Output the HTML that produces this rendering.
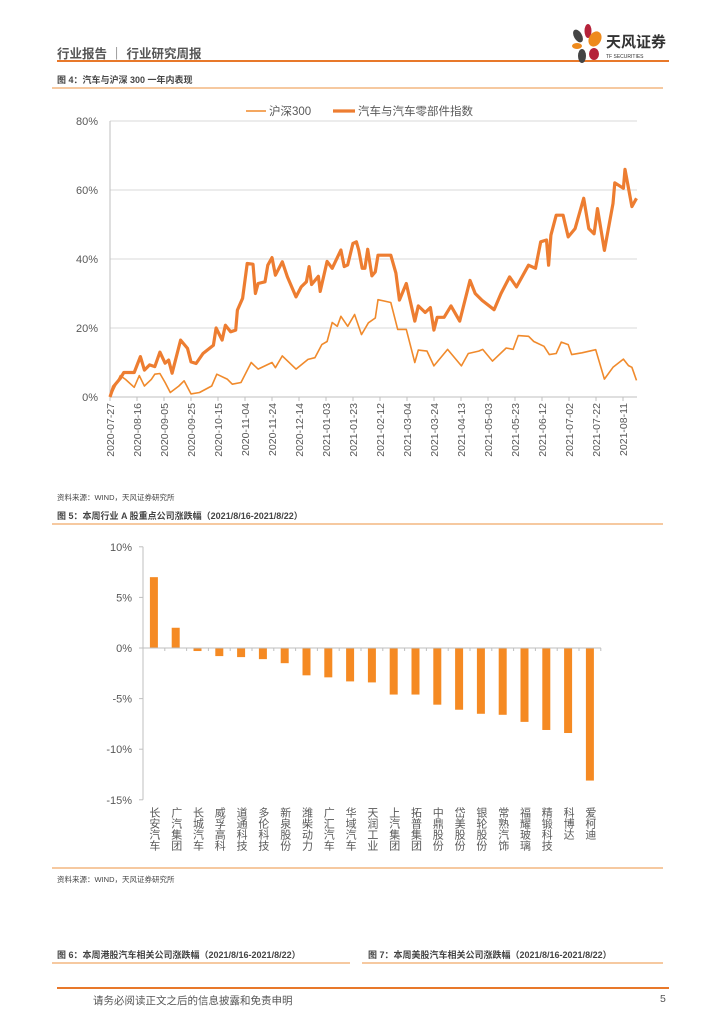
<!DOCTYPE html>
<html><head><meta charset="utf-8">
<style>
body{margin:0;width:724px;height:1024px;background:#fff;position:relative;overflow:hidden;font-family:"Liberation Sans","Noto Sans CJK SC",sans-serif;}
.abs{position:absolute;white-space:nowrap;}
.vlab{position:absolute;writing-mode:vertical-rl;font-size:11px;line-height:12px;color:#595959;font-family:"Liberation Sans","Noto Sans CJK SC",sans-serif;white-space:nowrap;}
</style></head><body>
<div class="abs" style="left:57px;top:43px;font-size:12.5px;color:#555;font-weight:bold;">行业报告 ｜ 行业研究周报</div>
<div class="abs" style="left:57px;top:60px;width:612px;height:2px;background:#e8782a;"></div>
<svg class="abs" style="left:568px;top:22px" width="104" height="42">
<ellipse cx="10" cy="14" rx="4" ry="7" fill="#444" transform="rotate(-30 10 14)"/>
<ellipse cx="20" cy="9" rx="3.5" ry="7" fill="#b5223a"/>
<ellipse cx="27" cy="17" rx="6" ry="8" fill="#ee8a1c" transform="rotate(30 27 17)"/>
<ellipse cx="9" cy="24" rx="5" ry="3" fill="#ee8a1c"/>
<ellipse cx="26" cy="32" rx="5" ry="6" fill="#b5223a"/>
<ellipse cx="14" cy="34" rx="4" ry="7" fill="#444"/>
<text x="38" y="25" font-size="15" font-weight="bold" fill="#333" font-family="Liberation Sans,Noto Sans CJK SC,sans-serif">天风证券</text>
<text x="38" y="36" font-size="5" fill="#333" font-family="Liberation Sans,sans-serif">TF SECURITIES</text>
</svg>
<div class="abs" style="left:57px;top:73px;font-size:9px;font-weight:bold;color:#444;">图 4：汽车与沪深 300 一年内表现</div>
<div class="abs" style="left:52px;top:87px;width:611px;height:1.5px;background:#f6c9a0;"></div>

<svg class="abs" id="c1" style="left:0;top:95px" width="724" height="395"></svg>

<div class="abs" style="left:57px;top:492px;font-size:7.5px;color:#444;">资料来源：WIND，天风证券研究所</div>
<div class="abs" style="left:57px;top:509px;font-size:9px;font-weight:bold;color:#444;">图 5：本周行业 A 股重点公司涨跌幅（2021/8/16-2021/8/22）</div>
<div class="abs" style="left:52px;top:523px;width:611px;height:1.5px;background:#f6c9a0;"></div>

<svg class="abs" id="c2" style="left:0;top:530px" width="724" height="336"></svg>
<div id="labs2"></div>
<div class="abs" style="left:52px;top:867px;width:611px;height:1.5px;background:#f6c9a0;"></div>
<div class="abs" style="left:57px;top:874px;font-size:7.5px;color:#444;">资料来源：WIND，天风证券研究所</div>

<div class="abs" style="left:57px;top:948px;font-size:9px;font-weight:bold;color:#444;">图 6：本周港股汽车相关公司涨跌幅（2021/8/16-2021/8/22）</div>
<div class="abs" style="left:52px;top:962px;width:298px;height:1.5px;background:#f6c9a0;"></div>
<div class="abs" style="left:368px;top:948px;font-size:9px;font-weight:bold;color:#444;">图 7：本周美股汽车相关公司涨跌幅（2021/8/16-2021/8/22）</div>
<div class="abs" style="left:362px;top:962px;width:301px;height:1.5px;background:#f6c9a0;"></div>
<div class="abs" style="left:57px;top:987px;width:612px;height:1.5px;background:#e8782a;"></div>
<div class="abs" style="left:93px;top:993px;font-size:10.5px;color:#555;">请务必阅读正文之后的信息披露和免责申明</div>
<div class="abs" style="left:660px;top:993px;font-size:10.5px;color:#555;">5</div>

<script>
const hsDays=[0,7.6,11.5,17.9,21.7,25.5,30.6,33.2,37,40.8,44.7,51,54.9,60,66.3,75.3,79.1,86.8,90.6,97,104.6,109.7,120,122.5,127.6,137.8,146.7,151.8,156.9,160.8,164.6,168.4,171,176.1,181.2,186.3,191.4,196.5,198.5,208,213.1,219.5,225.8,228.4,234.8,239.9,250.1,260.3,265.4,273.1,276.1,283.3,293.5,298.6,302.4,310.1,313.9,321.5,325.4,330.5,334.3,339.4,342,349.6,359.8,366.2,372.6,380.3,384.1,386.6,390];
const hsVals=[0,6.2,5.1,2.8,6.2,3.2,5.1,6.6,6.8,4.2,1.3,3.2,4.7,0.9,1.3,3.2,6.6,5.2,3.7,4.2,10,8.1,10,8.5,11.9,8.1,10.9,11.4,15.2,16.1,21.6,20.5,23.4,20.5,23.9,18.1,21.5,22.9,28.2,27.4,19.6,19.6,10,13.6,13.3,9,13.8,9,12.6,13.3,13.8,10.4,14.2,13.8,17.8,17.6,16.1,14.7,12.3,12.6,15.9,15.2,12.3,12.8,13.7,5.2,8.6,11,9.1,8.6,4.8];
const autoDays=[0,2.5,7.6,10.2,17.9,22.5,25.5,29.3,33.2,37,40.8,43.4,46,52.3,57.4,60,63.8,68.9,76.6,78.6,83,85.5,89.3,93.1,94.4,98.2,101.6,105.9,107.7,109.7,114.8,116.9,120,122.5,127.6,131.4,137.8,141.6,145.5,147.5,149.3,154.4,155.7,160.8,164.6,171,173.5,176.1,179.9,182.5,184.2,186.8,188.8,190.9,194,196.5,198.5,208,211.8,214.4,219.5,225.8,228.4,233.5,237.3,239.9,242.4,247.5,252.6,259,266.7,270.5,275.6,284.5,289.6,296,301.1,310,315.2,319,323.3,324.9,326.6,330.5,335.6,339.4,344.5,350.9,354.7,358.6,361.1,366.2,372.6,373.9,380.3,381.5,386.6,390];
const autoVals=[0,3,5.4,7.1,7.1,11.7,7.8,9.3,8.8,13,9.8,10.7,6.9,16.5,14.1,10.2,9.7,12.6,15,20,16.5,20.8,18.9,19.4,25.2,28.6,38.7,38.5,30,32.9,33.4,38.2,40.4,35.3,39.2,34.8,29,31.9,33.4,37.8,32.6,35,30.6,39.3,37.3,42.6,37.8,38.3,44.5,45,42.6,37.3,37.3,42.8,35.1,36.3,41.1,41.1,35.9,28.1,32.9,22,26.4,24.5,25.9,19.4,23.1,23.1,26.4,22,33.8,30,28,25.3,30,34.8,31.9,38.2,37.3,45,45.5,38.2,46.9,52.7,52.7,46.4,48.8,57.6,48.8,47.3,54.6,42.5,56.1,62.1,60.5,66,55.2,57.6];
const xTickLabels=["2020-07-27","2020-08-16","2020-09-05","2020-09-25","2020-10-15","2020-11-04","2020-11-24","2020-12-14","2021-01-03","2021-01-23","2021-02-12","2021-03-04","2021-03-24","2021-04-13","2021-05-03","2021-05-23","2021-06-12","2021-07-02","2021-07-22","2021-08-11"];
const yTicks1=[0,20,40,60,80];

const barCats=["长安汽车","广汽集团","长城汽车","威孚高科","道通科技","多伦科技","新泉股份","潍柴动力","广汇汽车","华域汽车","天润工业","上汽集团","拓普集团","中鼎股份","岱美股份","银轮股份","常熟汽饰","福耀玻璃","精锻科技","科博达","爱柯迪"];
const barVals=[7.0,2.0,-0.3,-0.8,-0.9,-1.1,-1.5,-2.7,-2.9,-3.3,-3.4,-4.6,-4.6,-5.6,-6.1,-6.5,-6.6,-7.3,-8.1,-8.4,-13.1];
const yTicks2=[10,5,0,-5,-10,-15];

const NS="http://www.w3.org/2000/svg";
function mk(p,t,a){const e=document.createElementNS(NS,t);for(const k in a)e.setAttribute(k,a[k]);p.appendChild(e);return e;}
const F='Liberation Sans, Noto Sans CJK SC, sans-serif';

const c1=document.getElementById('c1');
const X1=d=>110+d*1.35, Y1=v=>302-v*3.45;
yTicks1.forEach(v=>{
  if(v>0){const g=mk(c1,'line',{x1:110,x2:637,y1:Y1(v),y2:Y1(v),stroke:'#d9d9d9','stroke-width':1});
  
  }
  const t=mk(c1,'text',{x:98,y:Y1(v)+4,'text-anchor':'end','font-size':11,fill:'#595959','font-family':F});
  t.textContent=v+'%';
  
  
});
const ya=mk(c1,'line',{x1:110,x2:110,y1:Y1(80),y2:Y1(0),stroke:'#bfbfbf'});


const xa=mk(c1,'line',{x1:110,x2:637,y1:Y1(0),y2:Y1(0),stroke:'#bfbfbf'});


xTickLabels.forEach((s,i)=>{
  const x=X1(i*20);
  mk(c1,'line',{x1:x,x2:x,y1:Y1(0),y2:Y1(0)+4,stroke:'#bfbfbf'});
  const t=mk(c1,'text',{x:0,y:0,'text-anchor':'end','font-size':10.5,fill:'#595959','font-family':F,transform:`translate(${x+4},${Y1(0)+6}) rotate(-90)`});
  t.textContent=s;
  
  
});
function path(days,vals){return days.map((d,i)=>(i?'L':'M')+X1(d).toFixed(1)+','+Y1(vals[i]).toFixed(1)).join('');}
const l1=mk(c1,'path',{d:path(hsDays,hsVals),fill:'none',stroke:'#f08a2c','stroke-width':1.6,'stroke-linejoin':'round'});


const l2=mk(c1,'path',{d:path(autoDays,autoVals),fill:'none',stroke:'#ed7d31','stroke-width':3.2,'stroke-linejoin':'round'});


const lg1=mk(c1,'line',{x1:246,x2:266,y1:16,y2:16,stroke:'#f08a2c','stroke-width':1.6});


const lt1=mk(c1,'text',{x:269,y:20,'font-size':11.5,fill:'#595959','font-family':F});lt1.textContent='沪深300';


const lg2=mk(c1,'line',{x1:333,x2:355,y1:16,y2:16,stroke:'#ed7d31','stroke-width':3.2});


const lt2=mk(c1,'text',{x:358,y:20,'font-size':11.5,fill:'#595959','font-family':F});lt2.textContent='汽车与汽车零部件指数';



const c2=document.getElementById('c2');
const labs=document.getElementById('labs2');
const Y2=v=>118-v*10.12, slot=21.8, X2=i=>143+slot*(i+0.5);
yTicks2.forEach(v=>{
  const t=mk(c2,'text',{x:132,y:Y2(v)+4,'text-anchor':'end','font-size':11,fill:'#595959','font-family':F});
  t.textContent=v+'%';
  
  
  mk(c2,'line',{x1:139,x2:143,y1:Y2(v),y2:Y2(v),stroke:'#bfbfbf'});
});
const ya2=mk(c2,'line',{x1:143,x2:143,y1:Y2(10),y2:Y2(-15),stroke:'#bfbfbf'});


barVals.forEach((v,i)=>{
  const y=Math.min(Y2(0),Y2(v)),h=Math.abs(Y2(v)-Y2(0));
  const r=mk(c2,'rect',{x:X2(i)-4,y:y,width:8,height:Math.max(h,1),fill:'#f58a23'});
  
  
  const d=document.createElement('div');
  d.className='vlab';
  d.style.left=(X2(i)-6)+'px';
  d.style.top=(530+Y2(-15)+7)+'px';
  d.textContent=barCats[i];
  
  
  labs.appendChild(d);
});
const za=mk(c2,'line',{x1:143,x2:601,y1:Y2(0),y2:Y2(0),stroke:'#bfbfbf'});


for(let i=0;i<=barCats.length;i++)mk(c2,'line',{x1:143+slot*i,x2:143+slot*i,y1:Y2(0),y2:Y2(0)+3,stroke:'#bfbfbf'});
</script>
</body></html>
